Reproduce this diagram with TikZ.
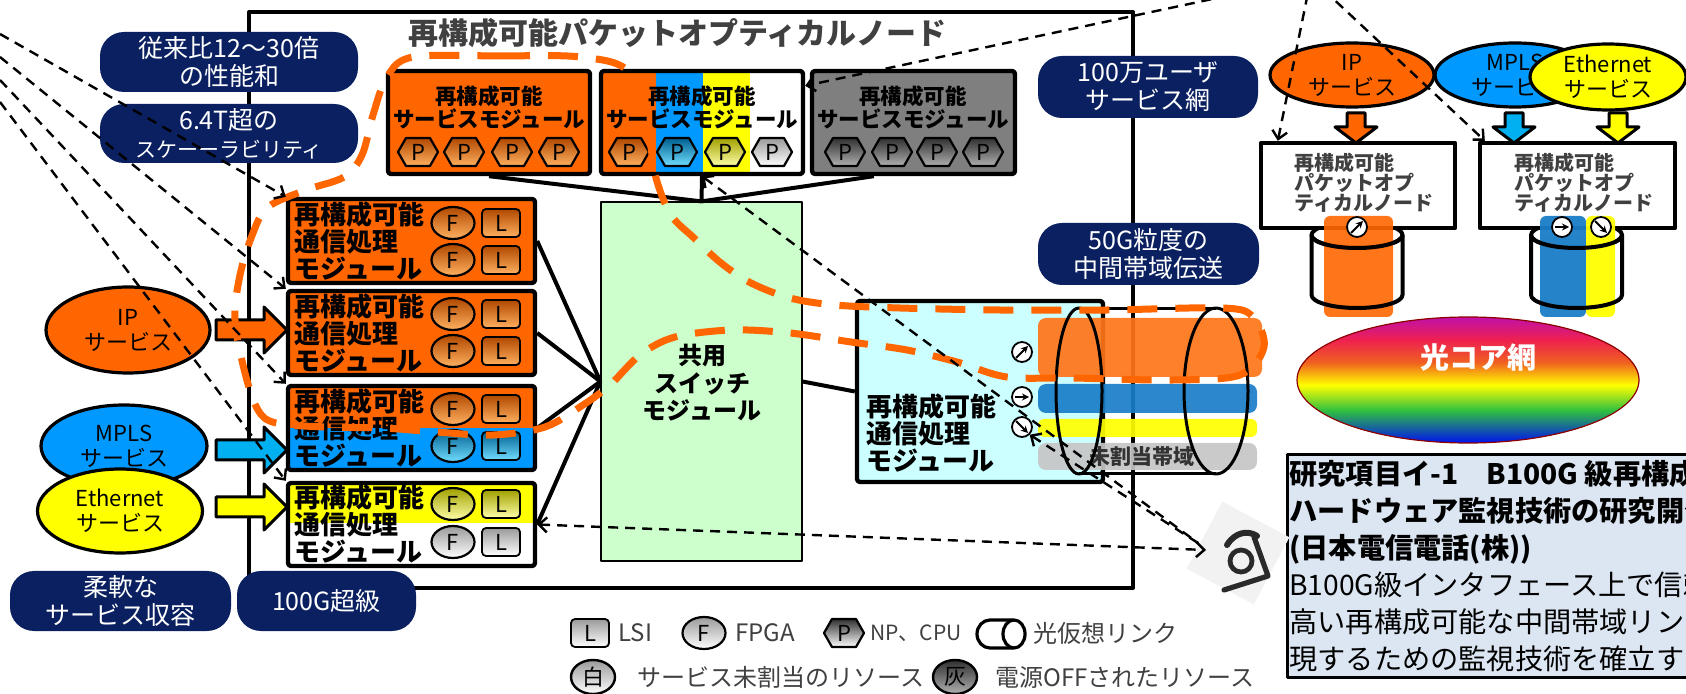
\documentclass[tikz,border=0pt]{standalone}
\usepackage{fontspec}
\newfontfamily\jp{Noto Sans CJK JP}
\usetikzlibrary{arrows.meta,fit,shapes.geometric}

\definecolor{navyc}{HTML}{0A2060}
\definecolor{og}{HTML}{FF6600}
\definecolor{sky}{HTML}{0099FF}
\definecolor{cyanarr}{HTML}{00B0F0}
\definecolor{yel}{HTML}{FFFF00}
\definecolor{dgray}{HTML}{404040}
\definecolor{modgray}{HTML}{7F7F7F}
\definecolor{swgreen}{HTML}{CCFFCC}
\definecolor{lcyan}{HTML}{CCFFFF}
\definecolor{boxblue}{HTML}{DCE6F2}
\definecolor{barog}{HTML}{FF7518}
\definecolor{barblue}{HTML}{1A7DC8}
\definecolor{bargray}{HTML}{C6C6C6}
\definecolor{tOl}{HTML}{FFB060}
\definecolor{tOd}{HTML}{B04800}
\definecolor{tBl}{HTML}{70DDFF}
\definecolor{tBd}{HTML}{006090}
\definecolor{tYl}{HTML}{FFFFA8}
\definecolor{tYd}{HTML}{A0A000}
\definecolor{tWl}{HTML}{FFFFFF}
\definecolor{tWd}{HTML}{9A9A9A}
\definecolor{tGl}{HTML}{B0B0B0}
\definecolor{tGd}{HTML}{303030}
\definecolor{rbM}{HTML}{C010A8}
\definecolor{rbR}{HTML}{EE2050}
\definecolor{rbO}{HTML}{F06020}
\definecolor{rbY}{HTML}{FFFF00}
\definecolor{rbG}{HTML}{30C040}
\definecolor{rbB}{HTML}{0010F0}
\definecolor{eyeink}{HTML}{2A2A2A}

% the picture runs with a downward y axis, so shadings are listed top-first
\pgfdeclareverticalshading{rainbowcore}{100bp}{color(0bp)=(rbB); color(25bp)=(rbB); color(38bp)=(rbG); color(48bp)=(rbY); color(57bp)=(rbO); color(66bp)=(rbR); color(75bp)=(rbM); color(100bp)=(rbM)}

% hexagonal NP/CPU chip: name, x, y, light, dark
\newcommand\ptok[5]{%
  \shadedraw[line width=1.1pt, top color=#5, bottom color=#4]
    (#2-20,#3) -- (#2-12,#3-14) -- (#2+12,#3-14) -- (#2+20,#3)
    -- (#2+12,#3+14) -- (#2-12,#3+14) -- cycle;
  \node (#1) [toklabel] at (#2,#3) {P};}
% FPGA and LSI chips: name, x, y, light, dark
\newcommand\ftok[5]{\node (#1) [ftok, top color=#5, bottom color=#4] at (#2,#3) {F};}
\newcommand\ltok[5]{\node (#1) [ltok, top color=#5, bottom color=#4] at (#2,#3) {L};}
% monitor gauge: name, x, y, arrow start offset, arrow end offset
\newcommand\gaugeicon[7]{%
  \node (#1) [gauge] at (#2,#3) {};
  \draw[gaugearrow] ([shift={(#4,#5)}]#1.center) -- ([shift={(#6,#7)}]#1.center);}
% block arrows
\newcommand\blockR[3]{%
  \filldraw[fill=#3, line width=1.5pt] (#1,#2-10) -- (#1+48,#2-10) -- (#1+48,#2-23)
    -- (#1+71,#2) -- (#1+48,#2+23) -- (#1+48,#2+10) -- (#1,#2+10) -- cycle;}
\newcommand\blockD[2]{%
  \filldraw[fill=#2, line width=1.5pt] (#1-9,113) -- (#1+9,113) -- (#1+9,127)
    -- (#1+21,127) -- (#1,143) -- (#1-21,127) -- (#1-9,127) -- cycle;}

\begin{document}
\begin{tikzpicture}[x=0.5pt, y=-0.5pt, line join=round,
  navy/.style={fill=navyc, rounded corners=12pt, inner sep=0pt},
  navytxt/.style={text=white, align=center, inner sep=0pt, font=\jp\fontsize{12.5}{14}\selectfont},
  modbox/.style={draw, line width=2.2pt, rounded corners=1.5pt, inner sep=0pt},
  modtxt/.style={align=center, inner sep=0pt, font=\jp\bfseries\fontsize{10.75}{11.5}\selectfont},
  cmtxt/.style={align=left, anchor=west, inner sep=0pt, font=\jp\bfseries\fontsize{13}{13.5}\selectfont},
  toklabel/.style={inner sep=0pt, font=\jp\fontsize{11}{11}\selectfont},
  ftok/.style={ellipse, draw, line width=1.1pt, minimum width=21.5pt, minimum height=16pt, inner sep=0pt, font=\jp\fontsize{11}{11}\selectfont},
  ltok/.style={rectangle, rounded corners=2pt, draw, line width=0.9pt, minimum width=19pt, minimum height=14pt, inner sep=0pt, font=\jp\fontsize{11}{11}\selectfont},
  gauge/.style={circle, draw, fill=white, line width=0.9pt, minimum size=10pt, inner sep=0pt},
  gaugearrow/.style={line width=1pt, -{Stealth[length=3.5pt,width=3.5pt]}},
  link/.style={line width=2pt},
  svc/.style={ellipse, draw, line width=1.6pt, inner sep=0pt, align=center, font=\jp\fontsize{11}{12.5}\selectfont},
  pnbox/.style={draw, fill=white, line width=2.2pt, inner sep=0pt},
  pntxt/.style={align=left, anchor=west, inner sep=0pt, text=dgray, font=\jp\bfseries\fontsize{10}{10}\selectfont},
  legtxt/.style={anchor=west, inner sep=0pt, text=dgray, font=\jp\fontsize{12}{12}\selectfont},
  dline/.style={line width=1.2pt, dash pattern=on 5pt off 3.5pt},
  >={Straight Barb[length=4pt,width=7.5pt]}
]
\useasboundingbox (0,0) rectangle (1686,694);

% ---------- outer node frame and title ----------
\node (frame) [draw, line width=2pt, inner sep=0pt, fit={(249,12)(1133,588)}] {};
\node (title) [anchor=west, inner sep=0pt, text=dgray, font=\jp\bfseries\fontsize{15}{15}\selectfont] at (408,33) {再構成可能パケットオプティカルノード};

% ---------- feature badges ----------
\node (nv1) [navy, fit={(100,32)(358,92)}] {};
\node (nv1t) [navytxt] at (nv1.center) {従来比12～30倍\\の性能和};
\node (nv2) [navy, fit={(100,104)(358,163)}] {};
\node (nv2t) [navytxt] at (nv2.center) {6.4T超の\\{\fontsize{10.5}{14}\selectfont スケーーラビリティ}};
\node (nv3) [navy, fit={(10,571)(231,631)}] {};
\node (nv3t) [navytxt] at (nv3.center) {柔軟な\\サービス収容};
\node (nv4) [navy, fit={(237,571)(416,631)}] {};
\node (nv4t) [navytxt] at (nv4.center) {100G超級};
\node (nv5) [navy, fit={(1038,56)(1258,118)}] {};
\node (nv5t) [navytxt] at (nv5.center) {100万ユーザ\\サービス網};
\node (nv6) [navy, fit={(1038,223)(1259,285)}] {};
\node (nv6t) [navytxt] at (nv6.center) {50G粒度の\\中間帯域伝送};

% ---------- service modules ----------
\node (smA) [modbox, fill=og, fit={(388,71)(590,174)}] {};
\fill[og] (601,71) rectangle (656,174);
\fill[sky] (656,71) rectangle (703,174);
\fill[yel] (703,71) rectangle (750,174);
\fill[white] (750,71) rectangle (803,174);
\node (smB) [modbox, fit={(601,71)(803,174)}] {};
\node (smC) [modbox, fill=modgray, fit={(812,71)(1015,174)}] {};
\node (smAt) [modtxt] at (489,107) {再構成可能\\サービスモジュール};
\node (smBt) [modtxt] at (702,107) {再構成可能\\サービスモジュール};
\node (smCt) [modtxt] at (913,107) {再構成可能\\サービスモジュール};
\ptok{pA1}{418}{152}{tOl}{tOd}\ptok{pA2}{464}{152}{tOl}{tOd}
\ptok{pA3}{512}{152}{tOl}{tOd}\ptok{pA4}{559}{152}{tOl}{tOd}
\ptok{pB1}{629}{152}{tOl}{tOd}\ptok{pB2}{677}{152}{tBl}{tBd}
\ptok{pB3}{725}{152}{tYl}{tYd}\ptok{pB4}{772}{152}{tWl}{tWd}
\ptok{pC1}{845}{152}{tGl}{tGd}\ptok{pC2}{892}{152}{tGl}{tGd}
\ptok{pC3}{937}{152}{tGl}{tGd}\ptok{pC4}{983}{152}{tGl}{tGd}

% ---------- shared switch ----------
\node (sw) [draw, line width=0.6pt, fill=swgreen, inner sep=0pt, fit={(601,202)(802,561)}] {};
\node (swt) [align=center, inner sep=0pt, font=\jp\bfseries\fontsize{12}{13.75}\selectfont] at (702,383) {共用\\スイッチ\\モジュール};
\draw[link] (smA.south) -- (sw.north);
\draw[link] (smB.south) -- (sw.north);
\draw[link] ([xshift=32pt]smC.south west) -- (sw.north);

% ---------- communication modules ----------
\node (cm1) [modbox, fill=og, fit={(288,199)(535,283)}] {};
\node (cm2) [modbox, fill=og, fit={(288,291)(535,375)}] {};
\fill[og] (288,386) rectangle (535,428);
\fill[sky] (288,428) rectangle (535,470);
\node (cm3) [modbox, fit={(288,386)(535,470)}] {};
\fill[yel] (288,483) rectangle (535,523);
\fill[white] (288,523) rectangle (535,566);
\node (cm4) [modbox, fit={(288,483)(535,566)}] {};
\node (cm1t) [cmtxt] at (294,241) {再構成可能\\通信処理\\モジュール};
\node (cm2t) [cmtxt] at (294,333) {再構成可能\\通信処理\\モジュール};
\node (cm3t) [cmtxt] at (294,428) {再構成可能\\通信処理\\モジュール};
\node (cm4t) [cmtxt] at (294,524) {再構成可能\\通信処理\\モジュール};
\ftok{f11}{453}{223}{tOl}{tOd}\ltok{l11}{501}{223}{tOl}{tOd}
\ftok{f12}{453}{260}{tOl}{tOd}\ltok{l12}{501}{260}{tOl}{tOd}
\ftok{f21}{453}{314}{tOl}{tOd}\ltok{l21}{501}{314}{tOl}{tOd}
\ftok{f22}{453}{351}{tOl}{tOd}\ltok{l22}{501}{351}{tOl}{tOd}
\ftok{f31}{453}{409}{tOl}{tOd}\ltok{l31}{501}{409}{tOl}{tOd}
\ftok{f32}{453}{446}{tBl}{tBd}\ltok{l32}{501}{446}{tBl}{tBd}
\ftok{f41}{453}{504}{tYl}{tYd}\ltok{l41}{501}{504}{tYl}{tYd}
\ftok{f42}{453}{542}{tWl}{tWd}\ltok{l42}{501}{542}{tWl}{tWd}
\draw[link] (cm1.east) -- (sw.west);
\draw[link] (cm2.east) -- (sw.west);
\draw[link] (cm3.east) -- (sw.west);
\draw[link] (cm4.east) -- (sw.west);

% ---------- client services (left) ----------
\node (ipL) [svc, fill=og, minimum width=82pt, minimum height=43pt] at (128,330) {IP\\サービス};
\node (mplsL) [svc, fill=sky, minimum width=83pt, minimum height=41pt] at (124,446) {MPLS\\サービス};
\node (ethL) [svc, fill=yel, minimum width=82.5pt, minimum height=42pt] at (120,511) {Ethernet\\サービス};
\blockR{216}{330}{og}
\blockR{216}{450}{cyanarr}
\blockR{216}{507}{yel}

% ---------- line-side module and virtual optical link ----------
\node (rcm) [modbox, fill=lcyan, fit={(857,301)(1103,482)}] {};
\draw[link] (sw.east) -- (rcm.west);
\node (rcmt) [cmtxt] at (866,433) {再構成可能\\通信処理\\モジュール};
\begin{scope}[fill opacity=0.92]
  \fill[barog, rounded corners=4pt] (1038,318) rectangle (1262,377);
  \fill[barblue, rounded corners=4pt] (1038,384) rectangle (1257,413);
  \fill[yel, rounded corners=3pt] (1038,419) rectangle (1257,437);
  \fill[bargray, rounded corners=4pt] (1038,443) rectangle (1257,470);
\end{scope}
\node (unas) [inner sep=0pt, text=black!80, font=\jp\bfseries\fontsize{10.5}{10.5}\selectfont] at (1142,457) {未割当帯域};
\draw[line width=1.5pt] (1079,391) ellipse [x radius=11.5pt, y radius=41.5pt];
\draw[line width=1.5pt] (1216,391) ellipse [x radius=16pt, y radius=41.5pt];
\draw[line width=1.5pt] (1079,308.5) -- (1216,308.5);
\draw[line width=1.5pt] (1079,473.5) -- (1216,473.5);
\gaugeicon{g1}{1022}{352}{-6}{6}{6}{-6}
\gaugeicon{g2}{1022}{397}{-7}{0}{7}{0}
\gaugeicon{g3}{1022}{427}{-6}{-6}{6}{6}

% ---------- network view (right) ----------
\node (ipR) [svc, fill=og, minimum width=82pt, minimum height=32pt] at (1352,75) {IP\\サービス};
\node (mplsR) [svc, fill=sky, minimum width=80pt, minimum height=32pt] at (1515,75) {MPLS\\サービス};
\node (ethR) [svc, fill=yel, minimum width=78pt, minimum height=33pt] at (1608,77) {Ethernet\\サービス};
\blockD{1356}{og}
\blockD{1514}{cyanarr}
\blockD{1618}{yel}
\foreach \cx in {1357,1576.5} {
  \fill[white] (\cx-45.5,235) rectangle (\cx+45.5,295);
  \fill[white] (\cx,295) ellipse [x radius=22.75pt, y radius=6.5pt];
  \draw[line width=2pt] (\cx,235) ellipse [x radius=22.75pt, y radius=6.5pt];
}
\node (pnL) [pnbox, fit={(1261,143)(1455,228)}] {};
\node (pnR) [pnbox, fit={(1480,143)(1675,228)}] {};
\node (pnLt) [pntxt] at (1294,183) {再構成可能\\パケットオプ\\ティカルノード};
\node (pnRt) [pntxt] at (1514,183) {再構成可能\\パケットオプ\\ティカルノード};
\fill[og, fill opacity=0.9, rounded corners=3pt] (1324,216) rectangle (1393,317);
\fill[barblue, fill opacity=0.95, rounded corners=3pt] (1540,216) rectangle (1586,317);
\fill[yel, fill opacity=0.95, rounded corners=3pt] (1586,216) rectangle (1615,317);
\foreach \cx in {1357,1576.5} {
  \draw[line width=2pt] (\cx-45.5,235) arc[start angle=180, end angle=360, x radius=22.75pt, y radius=6.5pt];
  \draw[line width=2pt] (\cx-45.5,235) -- (\cx-45.5,295) arc[start angle=180, end angle=360, x radius=22.75pt, y radius=6.5pt] -- (\cx+45.5,235);
}
\gaugeicon{gc1}{1357}{227}{-6}{6}{6}{-6}
\gaugeicon{gc2}{1562}{227}{-7}{0}{7}{0}
\gaugeicon{gc3}{1601}{227}{-6}{-6}{6}{6}
\node (core) [ellipse, draw=red!55!black, line width=0.6pt, shading=rainbowcore, minimum width=171pt, minimum height=63pt, inner sep=0pt] at (1468,380) {};
\node (coret) [inner sep=0pt, text=white, font=\jp\bfseries\fontsize{14.5}{14.5}\selectfont] at (1478,358) {光コア網};

% ---------- research item box ----------
\node (tb) [draw, line width=1.5pt, fill=boxblue, inner sep=0pt, fit={(1287,455)(1730,677)}] {};
\node (tbt) [anchor=north west, align=left, inner sep=0pt, font=\jp\fontsize{14.1}{18.5}\selectfont] at (1289,460)
  {{\bfseries 研究項目イ-1　B100G 級再構成}\\{\bfseries ハードウェア監視技術の研究開発}\\{\bfseries (日本電信電話(株))}\\B100G級インタフェース上で信頼\\高い再構成可能な中間帯域リンク\\現するための監視技術を確立する};

% ---------- legend ----------
\ltok{lgL}{590}{633}{tWl}{tWd}
\node (lgLt) [legtxt] at (618,633) {LSI};
\ftok{lgF}{704}{633}{tWl}{tWd}
\node (lgFt) [legtxt] at (735,633) {FPGA};
\ptok{lgP}{844}{633}{tWl}{tGd}
\node (lgPt) [legtxt, font=\jp\fontsize{10.5}{10.5}\selectfont] at (870,633) {NP、CPU};
\draw[line width=1.6pt] (1013,620) -- (990,620) arc[start angle=90, end angle=270, x radius=6.5pt, y radius=7pt] -- (1013,648);
\draw[line width=1.6pt] (1014,634) ellipse [x radius=5.5pt, y radius=7pt];
\node (lgCt) [legtxt] at (1033,633) {光仮想リンク};
\node (lgW) [ellipse, draw, line width=1.2pt, top color=tWd, bottom color=white, minimum width=22pt, minimum height=17pt, inner sep=0pt, font=\jp\fontsize{11}{11}\selectfont] at (593,677) {白};
\node (lgWt) [legtxt] at (637,677) {サービス未割当のリソース};
\node (lgG) [ellipse, draw, line width=1.2pt, top color=tGd, bottom color=tGl, minimum width=22pt, minimum height=17pt, inner sep=0pt, font=\jp\fontsize{11}{11}\selectfont] at (955,677) {灰};
\node (lgGt) [legtxt] at (995,677) {電源OFFされたリソース};

% ---------- monitoring eye ----------
\fill[black!5, rotate around={-28:(1238,553)}] (1200,515) rectangle (1276,591);
\draw[eyeink, line width=2.6pt, line cap=round] (1224,590) -- (1268,576) -- (1254,537);
\draw[eyeink, line width=2.4pt] (1241,561) circle [radius=5.5pt];
\draw[eyeink, line width=3pt, line cap=round] (1227,545) .. controls (1235,532) and (1248,530) .. (1257,536);

% ---------- reconfigurable region ----------
\draw[og, line width=3.5pt, dash pattern=on 15pt off 9pt] plot[smooth cycle, tension=0.55] coordinates {
  (413,57) (500,56) (580,57) (629,72) (648,132) (656,178) (671,215) (694,238) (721,263)
  (751,283) (790,298) (835,305) (900,308) (1000,310) (1107,310) (1223,308) (1253,317)
  (1264,347) (1240,375) (1173,380) (1073,378) (1007,377) (957,362) (907,350) (851,342)
  (790,333) (732,330) (675,337) (640,355) (610,385) (583,405) (545,427) (493,435)
  (436,432) (383,428) (325,427) (276,423) (258,410) (245,373) (235,320) (240,275)
  (253,233) (268,207) (306,190) (344,177) (362,155) (373,115) (387,77)};

% ---------- zoom and monitoring leaders ----------
\coordinate (fl1) at (0,34);
\coordinate (fl2) at (0,57);
\coordinate (fl3) at (0,80);
\coordinate (fl4) at (0,102);
\draw[dline,->] (fl1) -- (cm1.north west);
\draw[dline,->] (fl2) -- (cm2.north west);
\draw[dline,->] (fl3) -- (cm3.north west);
\draw[dline,->] (fl4) -- (cm4.north west);
\coordinate (ft) at (1311,-22);
\draw[dline,->] (ft) -- ([yshift=-8.5pt]smB.north east);
\draw[dline,->] (ft) -- ([xshift=9.5pt]pnL.north west);
\draw[dline,->] (ft) -- ([xshift=3.5pt]pnR.north west);
\coordinate (eyeA) at (1198,543);
\coordinate (eyeB) at (1206,550);
\draw[dline,<-] (smB.south) -- (eyeA);
\draw[dline,<-] (g3.south east) -- (eyeA);
\draw[dline,<->] (cm4.east) -- (eyeB);
\end{tikzpicture}
\end{document}
